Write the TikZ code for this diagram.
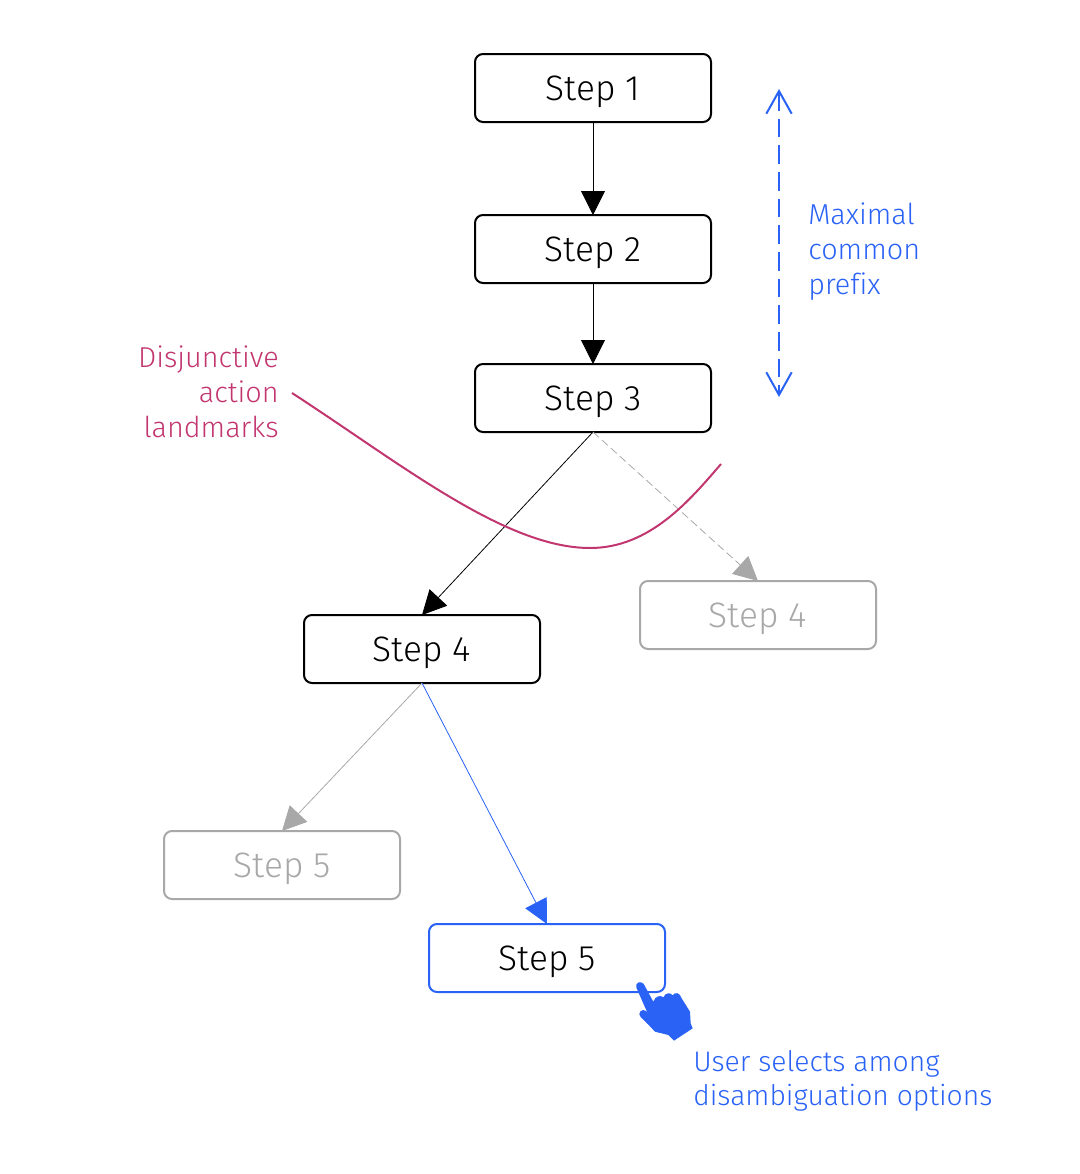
\documentclass[tikz,border=0pt]{standalone}
\usepackage{fontspec}
\setmainfont{Fira Sans}[UprightFont=* Light, Ligatures=NoCommon]
\usetikzlibrary{arrows.meta, positioning}
\definecolor{selblue}{HTML}{2962F5}
\definecolor{stepgray}{HTML}{A8A8A8}
\definecolor{landmark}{HTML}{C2366F}
\tikzstyle{stepbox} = [draw, line width=1.5pt, rounded corners=6pt, minimum width=177pt, minimum height=51pt, text depth=0pt, outer sep=0pt, font=\fontsize{26.5}{30}\selectfont]
\tikzstyle{grayed} = [stepbox, draw=stepgray, text=stepgray]
\tikzstyle{flow} = [-{Triangle[length=18pt, width=18pt]}, line width=0.6pt]
\tikzstyle{note} = [font=\fontsize{21.6}{26.25}\selectfont, inner sep=0pt]

\begin{document}
\begin{tikzpicture}[x=0.75pt, y=-0.75pt]
        \useasboundingbox (0,0) rectangle (1080,1174);
        \node[stepbox] (S1) at (593,88) {Step 1};
        \node[stepbox, below=69.75pt of S1] (S2) {Step 2};
        \node[stepbox, below=60.75pt of S2] (S3) {Step 3};
        \node[stepbox, below=137.25pt of S3, xshift=-128.25pt] (S4) {Step 4};
        \node[grayed, below=111.75pt of S3, xshift=123.75pt] (S4g) {Step 4};
        \node[grayed, below=111pt of S4, xshift=-105pt] (S5g) {Step 5};
        \node[stepbox, draw=selblue, below=180.75pt of S4, xshift=93.75pt] (S5) {Step 5};

        \draw[flow] (S1.south) -- (S2.north);
        \draw[flow] (S2.south) -- (S3.north);
        \draw[flow] (S3.south) -- (S4.north);
        \draw[flow, stepgray, dashed, dash pattern=on 6pt off 3pt] (S3.south) -- (S4g.north);
        \draw[flow, stepgray] (S4.south) -- (S5g.north);
        \draw[flow, selblue] (S4.south) -- (S5.north);

        % prefix span
        \coordinate (PT) at (779,89);
        \coordinate (PB) at (779,397);
        \draw[selblue, line width=1.5pt, dash pattern=on 14pt off 6pt, {Straight Barb[length=17pt, width=19pt]}-{Straight Barb[length=17pt, width=19pt]}] (PT) -- (PB);
        \node[note, text=selblue, align=left, anchor=west] (prefix) at (808,252) {Maximal\\common\\prefix};

        % landmarks curve
        \node[note, text=landmark, align=right, anchor=east] (actions) at (279,392) {Disjunctive\\action\\landmarks};
        \coordinate (CL) at (292,393);
        \coordinate (CM) at (590,548);
        \coordinate (CR) at (721,464);
        \draw[landmark, line width=1.5pt] (CL) .. controls (400,463) and (505,548) .. (CM) .. controls (650,548) and (690,500) .. (CR);

        % hand
        \begin{scope}[shift={(600,960)}, x=0.25pt, y=-0.25pt]
            \fill[selblue] (160,125) .. controls (165,108) and (182,104) .. (190,112) .. controls (195,98) and (212,96) .. (218,106) .. controls (225,94) and (240,98) .. (245,115) -- (270,155) -- (272,190) -- (278,205) -- (222,242) -- (205,225) -- (165,215) -- (125,172) -- (130,152) -- (160,175) -- (115,85) -- (130,70) -- cycle;
            \draw[selblue, line width=6pt, line cap=round] (120,78) -- (165,180);
            \draw[selblue, line width=6pt, line cap=round] (130,162) -- (175,205);
        \end{scope}
        \node[note, font=\fontsize{21.2}{25.5}\selectfont, text=selblue, align=left, anchor=west] (select) at (693,1081) {User selects among\\disambiguation options};
\end{tikzpicture}
\end{document}
